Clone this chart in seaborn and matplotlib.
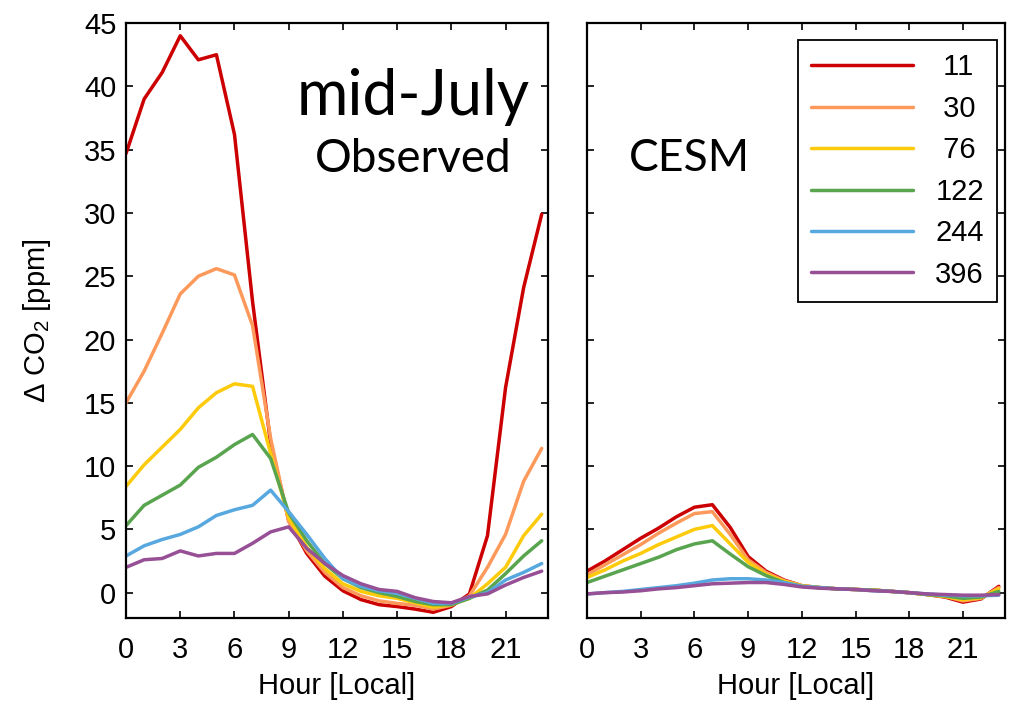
import numpy as np
import pandas as pd
import matplotlib
matplotlib.use("Agg")
import matplotlib.pyplot as plt
import seaborn as sns

hours = list(range(24))
heights = ["11", "30", "76", "122", "244", "396"]
colors = ["#cc0000", "#fd9a5b", "#fdcb0b", "#59a44e", "#58a8e0", "#974f96"]

# observed diurnal cycle, mid-July (ppm)
obs_11 = [34.7, 39.0, 41.1, 44.0, 42.1, 42.5, 36.2, 23.0, 11.8, 5.7, 3.1, 1.3,
          0.15, -0.55, -0.95, -1.1, -1.3, -1.55, -1.1, -0.1, 4.5, 16.2, 24.1, 29.9]
obs_30 = [15.0, 17.5, 20.5, 23.6, 25.0, 25.6, 25.1, 21.1, 12.2, 5.6, 3.3, 1.6,
          0.4, -0.25, -0.65, -0.85, -1.0, -1.3, -1.0, -0.25, 2.0, 4.6, 8.8, 11.4]
obs_76 = [8.4, 10.1, 11.5, 12.9, 14.6, 15.8, 16.5, 16.3, 11.0, 5.9, 3.6, 1.9,
          0.7, 0.1, -0.25, -0.45, -0.8, -1.15, -0.95, -0.45, 0.7, 2.0, 4.5, 6.2]
obs_122 = [5.3, 6.9, 7.7, 8.5, 9.9, 10.7, 11.7, 12.5, 10.6, 6.3, 4.1, 2.3,
           1.1, 0.4, 0.0, -0.3, -0.7, -0.95, -0.95, -0.45, 0.2, 1.5, 2.9, 4.1]
obs_244 = [2.9, 3.7, 4.2, 4.6, 5.2, 6.1, 6.55, 6.9, 8.1, 6.4, 4.6, 2.7,
           1.1, 0.5, 0.15, -0.05, -0.45, -0.85, -0.85, -0.35, 0.0, 1.0, 1.6, 2.3]
obs_396 = [2.0, 2.6, 2.7, 3.3, 2.9, 3.1, 3.1, 3.9, 4.8, 5.2, 3.5, 2.3,
           1.35, 0.7, 0.25, 0.1, -0.4, -0.7, -0.8, -0.3, -0.1, 0.6, 1.2, 1.7]

# CESM model
cesm_11 = [1.7, 2.5, 3.4, 4.3, 5.1, 6.0, 6.75, 6.95, 5.15, 2.85, 1.7, 1.0,
           0.55, 0.4, 0.3, 0.25, 0.2, 0.1, 0.0, -0.15, -0.35, -0.75, -0.5, 0.5]
cesm_30 = [1.4, 2.2, 3.0, 3.8, 4.7, 5.5, 6.25, 6.4, 4.6, 2.6, 1.6, 0.95,
           0.55, 0.4, 0.3, 0.25, 0.2, 0.1, 0.0, -0.15, -0.3, -0.65, -0.45, 0.4]
cesm_76 = [1.2, 1.8, 2.5, 3.1, 3.8, 4.4, 5.0, 5.3, 3.85, 2.4, 1.45, 0.9,
           0.55, 0.4, 0.3, 0.25, 0.2, 0.1, 0.0, -0.15, -0.3, -0.55, -0.4, 0.3]
cesm_122 = [0.8, 1.3, 1.8, 2.3, 2.8, 3.4, 3.85, 4.1, 3.05, 2.05, 1.35, 0.8,
            0.5, 0.4, 0.3, 0.25, 0.2, 0.1, 0.0, -0.15, -0.25, -0.45, -0.35, 0.1]
cesm_244 = [-0.1, 0.0, 0.1, 0.25, 0.4, 0.55, 0.75, 1.0, 1.1, 1.1, 1.0, 0.8,
            0.5, 0.4, 0.3, 0.25, 0.15, 0.1, 0.0, -0.1, -0.2, -0.25, -0.25, -0.2]
cesm_396 = [-0.1, 0.0, 0.05, 0.15, 0.3, 0.4, 0.55, 0.7, 0.75, 0.8, 0.8, 0.65,
            0.45, 0.35, 0.3, 0.25, 0.15, 0.1, 0.0, -0.1, -0.15, -0.2, -0.2, -0.15]

obs = [obs_11, obs_30, obs_76, obs_122, obs_244, obs_396]
cesm = [cesm_11, cesm_30, cesm_76, cesm_122, cesm_244, cesm_396]


def long_form(series):
    rows = []
    for h, vals in zip(heights, series):
        for hr, v in zip(hours, vals):
            rows.append((hr, v, h))
    return pd.DataFrame(rows, columns=["hour", "dco2", "height"])


sns.set_style("ticks")
plt.rcParams["font.family"] = ["Liberation Sans", "DejaVu Sans"]
plt.rcParams["mathtext.fontset"] = "custom"
plt.rcParams["mathtext.rm"] = "Liberation Sans"
for k in ("text.color", "axes.labelcolor", "xtick.color", "ytick.color"):
    plt.rcParams[k] = "black"

fig = plt.figure(figsize=(10.1, 7.04), dpi=100)
ax1 = fig.add_axes([0.1248, 0.1222, 0.4178, 0.845])
ax2 = fig.add_axes([0.5812, 0.1222, 0.4139, 0.845])

pal = dict(zip(heights, colors))
sns.lineplot(data=long_form(obs), x="hour", y="dco2", hue="height",
             hue_order=heights, palette=pal, ax=ax1, legend=False)
sns.lineplot(data=long_form(cesm), x="hour", y="dco2", hue="height",
             hue_order=heights, palette=pal, ax=ax2, legend=True)

for ax in (ax1, ax2):
    for ln in ax.get_lines():
        ln.set_linewidth(2.5)
    ax.set_xlim(0, 23.35)
    ax.set_ylim(-2, 45)
    ax.set_xticks(range(0, 22, 3))
    ax.set_yticks(range(0, 46, 5))
    ax.tick_params(direction="in", length=5, width=1.2, top=True, right=True,
                   labelsize=21)
    ax.tick_params(axis="x", pad=13)
    ax.tick_params(axis="y", pad=7)
    for s in ax.spines.values():
        s.set_linewidth(1.6)
        s.set_color("black")
    ax.set_xlabel("Hour [Local]", fontsize=21, labelpad=6)
    ax.set_ylabel("")

ax2.tick_params(labelleft=False)
ax1.set_ylabel(r"$\Delta$ CO$_2$ [ppm]", fontsize=21, labelpad=22)

ax1.text(15.9, 39.2, "mid-July", fontsize=45, family=["Lato", "DejaVu Sans"],
         ha="center", va="center")
ax1.text(15.9, 34.3, "Observed", fontsize=33, family=["Lato", "DejaVu Sans"],
         ha="center", va="center")
ax2.text(5.7, 34.3, "CESM", fontsize=32, family=["Lato", "DejaVu Sans"],
         ha="center", va="center")

handles, labels = ax2.get_legend_handles_labels()
labels = [(" " + l if len(l) == 2 else l) for l in labels]
leg = ax2.legend(handles, labels, loc="upper right", bbox_to_anchor=(0.981, 0.971),
                 borderaxespad=0, fontsize=21, handlelength=3.5, handletextpad=0.75,
                 labelspacing=0.46, borderpad=0.45, fancybox=False, framealpha=1,
                 edgecolor="black")
leg.get_frame().set_linewidth(1.3)
for l in leg.get_lines():
    l.set_linewidth(2.5)

fig.savefig("out.png", dpi=100)
